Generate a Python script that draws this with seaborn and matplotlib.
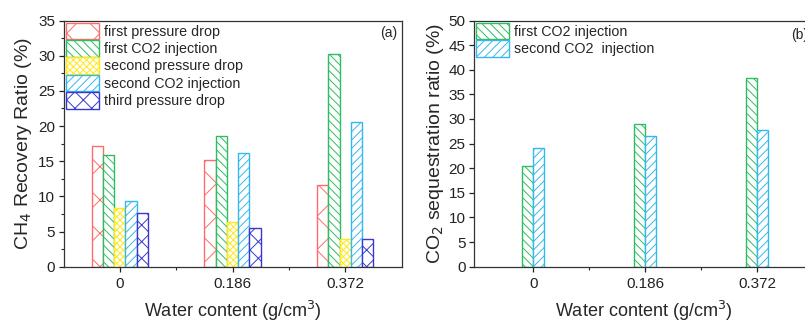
import matplotlib
matplotlib.use("Agg")
import matplotlib.pyplot as plt
import seaborn as sns
import pandas as pd

# ---------------- data ----------------
water = ["0", "0.186", "0.372"]

stages_a = ["first pressure drop", "first CO2 injection", "second pressure drop",
            "second CO2 injection", "third pressure drop"]
first_pd = [17.2, 15.1, 11.6]
first_co2 = [15.9, 18.6, 30.2]
second_pd = [8.4, 6.3, 3.9]
second_co2 = [9.4, 16.1, 20.6]
third_pd = [7.7, 5.5, 3.9]

stages_b = ["first CO2 injection", "second CO2  injection"]
seq_first = [20.5, 29.0, 38.3]
seq_second = [24.1, 26.5, 27.8]

# ---------------- styles ----------------
colors_a = ["#FF6B6B", "#2DBE62", "#FFE81A", "#33B8F0", "#3838D0"]
hatches_a = ["x", "\\\\\\\\", "xxxxx", "////", "xx"]
colors_b = ["#2DBE62", "#33B8F0"]
hatches_b = ["\\\\\\\\", "////"]

sns.set_style("ticks")
plt.rcParams["font.family"] = ["Liberation Sans", "DejaVu Sans"]
plt.rcParams["hatch.linewidth"] = 0.7
plt.rcParams["axes.linewidth"] = 0.9

df_a = pd.DataFrame({
    "water": water * 5,
    "stage": sum([[s] * 3 for s in stages_a], []),
    "value": first_pd + first_co2 + second_pd + second_co2 + third_pd,
})
df_b = pd.DataFrame({
    "water": water * 2,
    "stage": sum([[s] * 3 for s in stages_b], []),
    "value": seq_first + seq_second,
})

W, H = 805, 323
fig = plt.figure(figsize=(W / 100, H / 100), dpi=100)
bottom = 1 - 266.7 / H
height = 246.2 / H
ax1 = fig.add_axes([63.5 / W, bottom, 338 / W, height])
ax2 = fig.add_axes([474 / W, bottom, 339 / W, height])


def style_bars(ax, colors, hatches):
    for cont, c, h in zip(ax.containers, colors, hatches):
        for p in cont.patches:
            p.set_facecolor("white")
            p.set_edgecolor(c)
            p.set_hatch(h)
            p.set_linewidth(1.0)


sns.barplot(data=df_a, x="water", y="value", hue="stage", order=water,
            hue_order=stages_a, width=0.5, ax=ax1, legend=False, errorbar=None)
style_bars(ax1, colors_a, hatches_a)

sns.barplot(data=df_b, x="water", y="value", hue="stage", order=water,
            hue_order=stages_b, width=0.2, ax=ax2, legend=False, errorbar=None)
style_bars(ax2, colors_b, hatches_b)

for ax in (ax1, ax2):
    for sp in ax.spines.values():
        sp.set_visible(True)
        sp.set_color("#333333")
    ax.tick_params(axis="both", which="major", direction="out", length=3.5,
                   width=0.9, labelsize=11, pad=2.5, colors="#222222",
                   top=False, right=False)
    ax.tick_params(axis="x", which="major", pad=4)
    ax.tick_params(axis="both", which="minor", direction="out", length=2,
                   width=0.8, top=False, right=False)
    ax.set_xticks([0.5, 1.5], minor=True)
    ax.set_xlabel("Water content (g/cm$^3$)", fontsize=13, labelpad=5.5)

ax1.set_xlim(-0.5, 2.5)
ax1.set_ylim(0, 35)
ax1.set_yticks(range(0, 36, 5))
ax1.set_yticks([2.5 + 5 * i for i in range(7)], minor=True)
ax1.set_ylabel("CH$_4$ Recovery Ratio (%)", fontsize=14, labelpad=3)
ax1.text(0.988, 0.95, "(a)", transform=ax1.transAxes, ha="right", va="center",
         fontsize=10)

ax2.set_xlim(-0.53, 2.5)
ax2.set_ylim(0, 50)
ax2.set_yticks(range(0, 51, 5))
ax2.set_ylabel("CO$_2$ sequestration ratio (%)", fontsize=14, labelpad=2)
ax2.text(0.934, 0.942, "(b)", transform=ax2.transAxes, ha="left", va="center",
         fontsize=10)

leg_kw = dict(loc="upper left", frameon=False, fontsize=10.3, handlelength=2.3,
              handleheight=1.4, labelspacing=0.06, handletextpad=0.35,
              borderaxespad=0.15, borderpad=0.0)
ax1.legend(ax1.containers, stages_a, **leg_kw)
ax2.legend(ax2.containers, stages_b, **leg_kw)

fig.savefig("out.png", dpi=100)
